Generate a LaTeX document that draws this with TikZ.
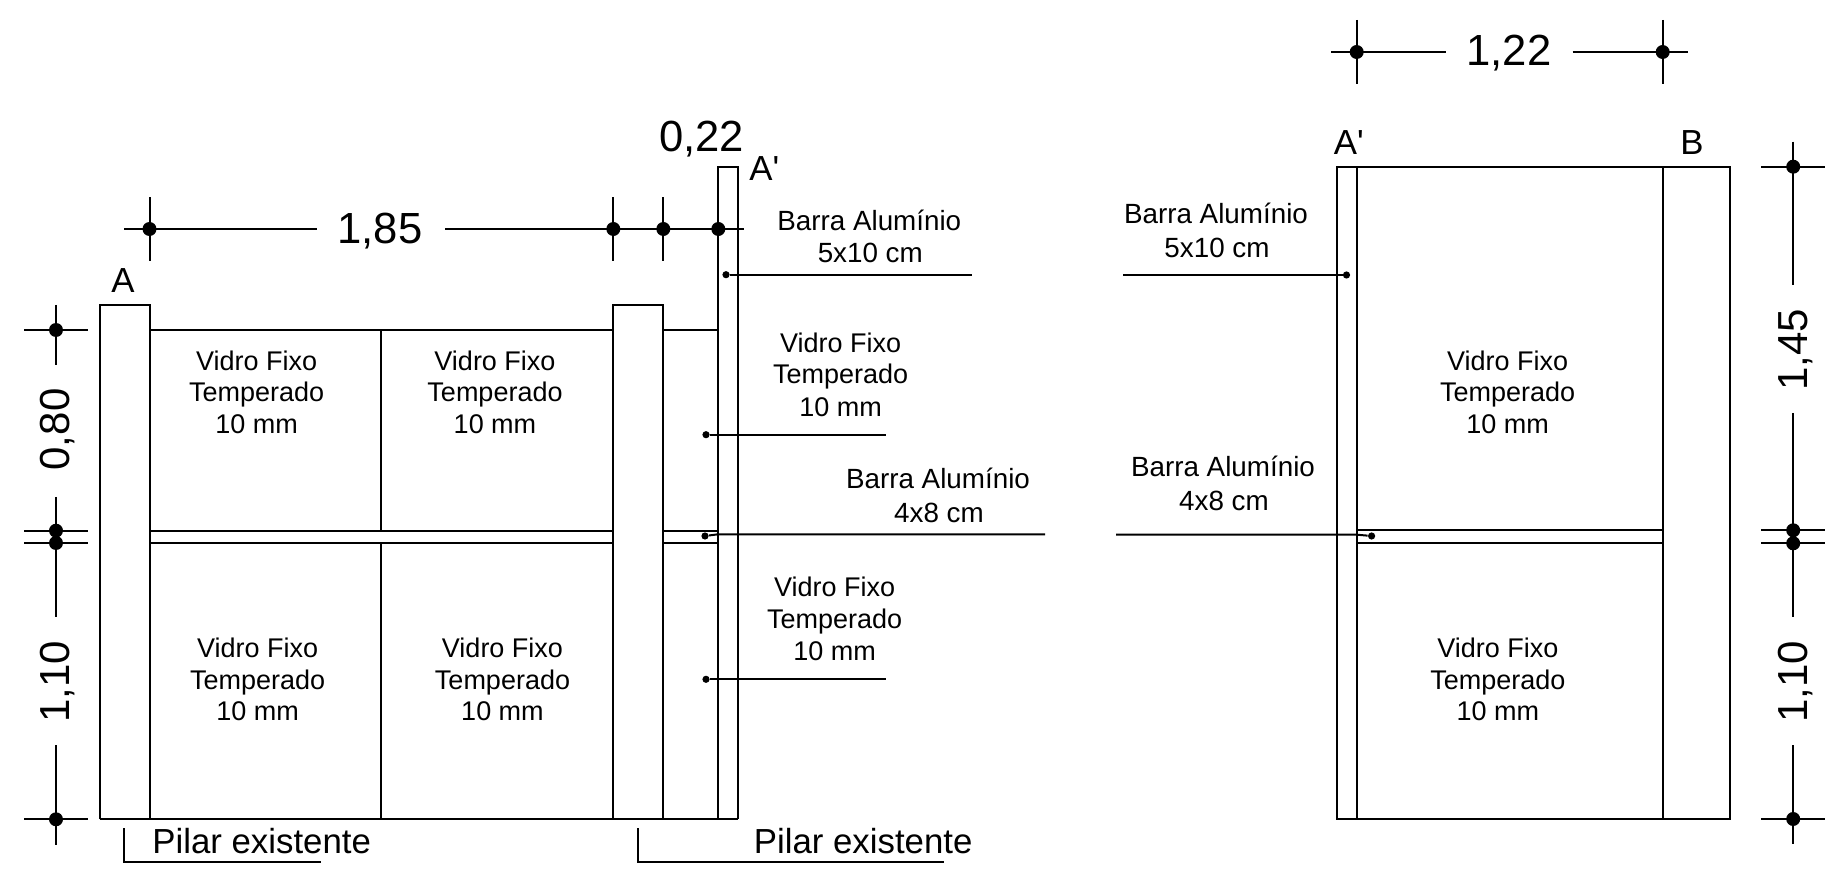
\documentclass[tikz,border=0pt]{standalone}
\usepackage{fontspec}
\setmainfont{Liberation Sans}
\newfontfamily\plainfont{Liberation Sans}
\newcommand{\smallsz}{\fontsize{13.5}{16}\selectfont}
\newcommand{\barsz}{\fontsize{13.9}{16.6}\selectfont}
\newcommand{\midsz}{\plainfont\fontsize{17.4}{20}\selectfont}
\newcommand{\bigsz}{\fontsize{21.8}{25}\selectfont}
\newcommand{\rotsz}{\fontsize{21}{25}\selectfont}
\tikzset{
  plan/.style={line width=1pt,black,line cap=butt},
  dimline/.style={line width=1pt,black},
  dimdot/.style={circle,fill=black,inner sep=0pt,minimum size=7pt},
  leaddot/.style={circle,fill=black,inner sep=0pt,minimum size=3.6pt},
  note/.style={font=\smallsz,align=center,inner sep=0pt,anchor=base},
  barnote/.style={font=\barsz,align=center,inner sep=0pt,anchor=base},
  tag/.style={font=\midsz,inner sep=0pt,anchor=base west},
  dimtext/.style={font=\bigsz,inner sep=0pt,anchor=base},
  vdimtext/.style={font=\rotsz,inner sep=0pt,anchor=base,rotate=90},
}
\begin{document}
\begin{tikzpicture}[x=0.5pt,y=-0.5pt]
\useasboundingbox (0,0) rectangle (1828,877);
% ---------- left elevation ----------
\begin{scope}[plan]
\draw (99.5,819.3) -- (99.5,304.7) -- (149.5,304.7) -- (149.5,819.3);
\draw (613.3,819.3) -- (613.3,304.7) -- (663.3,304.7) -- (663.3,819.3);
\draw (718.3,819.3) -- (718.3,167) -- (738.3,167) -- (738.3,819.3);
\draw (99.5,819.3) -- (738.3,819.3);
\draw (149.5,330) -- (613.3,330) (663.3,330) -- (718.3,330);
\draw (149.5,530.7) -- (613.3,530.7) (663.3,530.7) -- (718.3,530.7);
\draw (149.5,543) -- (613.3,543) (663.3,543) -- (718.3,543);
\draw (381,330) -- (381,530.7) (381,543) -- (381,819.3);
\end{scope}
% top dimension, left
\begin{scope}[dimline]
\draw (124,229) -- (317,229) (445,229) -- (744.3,229);
\foreach \n/\x in {a/149.5,b/613.3,c/663.3,d/718.3}{
  \draw (\x,197.3) -- (\x,261);
  \node[dimdot] (top\n) at (\x,229) {};
}
% left dimension
\draw (56,305) -- (56,365) (56,497) -- (56,617) (56,745) -- (56,845);
\foreach \n/\y in {a/330,b/530.7,c/543,d/819.3}{
  \draw (24,\y) -- (87.8,\y);
  \node[dimdot] (lft\n) at (56,\y) {};
}
\end{scope}
\node[dimtext] (d185) at (380,243.5) {1,85};
\node[dimtext] (d022) at (701.5,151.2) {0,22};
\node[vdimtext] (d080) at (69,429.5) {0,80};
\node[vdimtext] (d110l) at (69,682) {1,10};
\node[tag] (tA) at (111,292.7) {A};
\node[tag] (tAp) at (749,180.3) {A'};
\node[note] (v1) at (256.6,370.3) {Vidro Fixo};
\node[note] (v1b) at (256.6,401.5) {Temperado};
\node[note] (v1c) at (256.6,433.3) {10 mm};
\node[note] (v2) at (495,370.3) {Vidro Fixo};
\node[note] (v2b) at (495,401.5) {Temperado};
\node[note] (v2c) at (495,433.3) {10 mm};
\node[note] (v3) at (257.6,657.7) {Vidro Fixo};
\node[note] (v3b) at (257.6,689) {Temperado};
\node[note] (v3c) at (257.6,720.7) {10 mm};
\node[note] (v4) at (502.5,657.7) {Vidro Fixo};
\node[note] (v4b) at (502.5,689) {Temperado};
\node[note] (v4c) at (502.5,720.7) {10 mm};
% leaders, left elevation
\node[barnote] (b1) at (869.3,230.5) {Barra Alumínio};
\node[barnote] (b1b) at (870.3,262.7) {5x10 cm};
\node[leaddot] (l1) at (726,274.7) {};
\coordinate (l1e) at (971.7,274.7);
\draw[dimline] (l1) -- (l1e);
\node[note] (v5) at (840.7,352.2) {Vidro Fixo};
\node[note] (v5b) at (840.7,384) {Temperado};
\node[note] (v5c) at (840.7,416) {10 mm};
\node[leaddot] (l2) at (706,434.7) {};
\coordinate (l2e) at (886,434.7);
\draw[dimline] (l2) -- (l2e);
\node[barnote] (b2) at (938,488) {Barra Alumínio};
\node[barnote] (b2b) at (939,522.5) {4x8 cm};
\node[leaddot] (l3) at (705,536) {};
\coordinate (l3e) at (1045,534.3);
\draw[dimline] (l3) -- (718,534.3) -- (l3e);
\node[note] (v6) at (834.7,596.7) {Vidro Fixo};
\node[note] (v6b) at (834.7,628) {Temperado};
\node[note] (v6c) at (834.7,660) {10 mm};
\node[leaddot] (l4) at (706,679.3) {};
\coordinate (l4e) at (886,679.3);
\draw[dimline] (l4) -- (l4e);
% pilar labels
\node[tag] (p1) at (152,853.3) {Pilar existente};
\draw[dimline] (124,828.3) -- (124,862) -- (321.4,862);
\node[tag] (p2) at (753.5,853.3) {Pilar existente};
\draw[dimline] (637.8,828.3) -- (637.8,862) -- (944,862);
% ---------- right elevation ----------
\begin{scope}[plan]
\draw (1336.5,166.7) rectangle (1730,819);
\draw (1356.7,166.7) -- (1356.7,819);
\draw (1662.7,166.7) -- (1662.7,819);
\draw (1356.7,530.3) -- (1662.7,530.3) (1356.7,543.3) -- (1662.7,543.3);
\end{scope}
\begin{scope}[dimline]
\draw (1331,52) -- (1446,52) (1572.6,52) -- (1688.2,52);
\foreach \n/\x in {a/1356.7,b/1662.7}{
  \draw (\x,20) -- (\x,84);
  \node[dimdot] (rt\n) at (\x,52) {};
}
\draw (1793.2,141.7) -- (1793.2,285) (1793.2,413) -- (1793.2,616.7) (1793.2,745) -- (1793.2,844.3);
\foreach \n/\y in {a/166.7,b/530.3,c/543.3,d/819}{
  \draw (1761,\y) -- (1825,\y);
  \node[dimdot] (rr\n) at (1793.2,\y) {};
}
\end{scope}
\node[dimtext] (d122) at (1509,66) {1,22};
\node[vdimtext] (d145) at (1807.5,350) {1,45};
\node[vdimtext] (d110r) at (1807.5,681.7) {1,10};
\node[tag] (tAr) at (1333.5,155) {A'};
\node[tag] (tB) at (1680,155) {B};
\node[barnote] (b3) at (1216,224) {Barra Alumínio};
\node[barnote] (b3b) at (1217,257.7) {5x10 cm};
\node[leaddot] (l5) at (1346.5,275) {};
\coordinate (l5s) at (1123,275);
\draw[dimline] (l5s) -- (l5);
\node[barnote] (b4) at (1223,477) {Barra Alumínio};
\node[barnote] (b4b) at (1224,510.7) {4x8 cm};
\node[leaddot] (l6) at (1371.6,536) {};
\coordinate (l6s) at (1116,534.7);
\draw[dimline] (l6s) -- (1357,534.7) -- (l6);
\node[note] (v7) at (1507.6,370.3) {Vidro Fixo};
\node[note] (v7b) at (1507.6,401.5) {Temperado};
\node[note] (v7c) at (1507.6,433.3) {10 mm};
\node[note] (v8) at (1497.9,657.7) {Vidro Fixo};
\node[note] (v8b) at (1497.9,689) {Temperado};
\node[note] (v8c) at (1497.9,720.7) {10 mm};
\end{tikzpicture}
\end{document}
